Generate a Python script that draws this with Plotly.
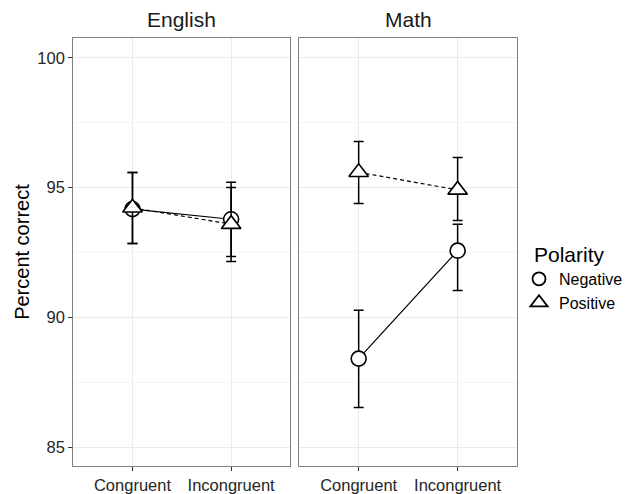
import plotly.graph_objects as go
from plotly.subplots import make_subplots

# Data: mean percent correct with error bar limits
subjects = ["English", "Math"]
conditions = ["Congruent", "Incongruent"]
polarities = ["Negative", "Positive"]

means = {
    ("English", "Negative"): [94.17, 93.78],
    ("English", "Positive"): [94.22, 93.59],
    ("Math", "Negative"): [88.41, 92.57],
    ("Math", "Positive"): [95.59, 94.91],
}
upper = {
    ("English", "Negative"): [95.58, 95.21],
    ("English", "Positive"): [95.58, 95.00],
    ("Math", "Negative"): [90.27, 93.59],
    ("Math", "Positive"): [96.78, 96.16],
}
lower = {
    ("English", "Negative"): [92.85, 92.34],
    ("English", "Positive"): [92.85, 92.15],
    ("Math", "Negative"): [86.53, 91.03],
    ("Math", "Positive"): [94.39, 93.73],
}

y_ticks = [85, 90, 95, 100]
y_minor = [87.5, 92.5, 97.5]

symbols = {"Negative": "circle", "Positive": "triangle-up"}
sizes = {"Negative": 15, "Positive": 17}
dashes = {"Negative": "solid", "Positive": "4px,3px"}

FONT = "Liberation Sans, Arial, Helvetica, sans-serif"

fig = make_subplots(rows=1, cols=2, shared_yaxes=True)

for col, subj in enumerate(subjects, start=1):
    for pol in polarities:
        m = means[(subj, pol)]
        up = [u - v for u, v in zip(upper[(subj, pol)], m)]
        dn = [v - l for l, v in zip(lower[(subj, pol)], m)]
        fig.add_trace(
            go.Scatter(
                x=conditions,
                y=m,
                mode="lines+markers",
                line=dict(color="black", width=1.2, dash=dashes[pol]),
                marker=dict(symbol=symbols[pol], size=sizes[pol], color="white",
                            line=dict(color="black", width=1.6)),
                error_y=dict(type="data", symmetric=False, array=up, arrayminus=dn,
                             color="black", thickness=1.5, width=5),
                showlegend=False,
                name=pol,
            ),
            row=1, col=col,
        )

# Legend keys (marker only)
for pol in polarities:
    fig.add_trace(
        go.Scatter(
            x=[None], y=[None], mode="markers", name=pol,
            marker=dict(symbol=symbols[pol], size=sizes[pol] - 2, color="white",
                        line=dict(color="black", width=1.8)),
        ),
        row=1, col=1,
    )

W, H = 634, 494
dom1 = [73.3 / W, 290.3 / W]
dom2 = [299.3 / W, 517.0 / W]
ydom = [1 - 467.7 / H, 1 - 38.5 / H]

axis_common = dict(
    showline=True, linecolor="#7f7f7f", linewidth=1.2, mirror=True,
    showgrid=True, gridcolor="#ebebeb", gridwidth=1,
    ticks="outside", ticklen=4, tickcolor="#333333", tickwidth=1,
    tickfont=dict(family=FONT, size=16.5, color="#262626"),
    zeroline=False,
)

fig.update_xaxes(**axis_common, type="category", categoryorder="array",
                 categoryarray=conditions, range=[-0.6, 1.6])
fig.update_layout(xaxis=dict(domain=dom1), xaxis2=dict(domain=dom2))
fig.update_yaxes(**axis_common, range=[84.28, 100.75], tickvals=y_ticks,
                 domain=ydom,
                 minor=dict(tickvals=y_minor, showgrid=True, gridcolor="#f5f5f5",
                            gridwidth=1, ticks=""))
fig.update_yaxes(ticks="", row=1, col=2)
fig.update_yaxes(title=dict(text="Percent correct", font=dict(family=FONT, size=20, color="black"),
                            standoff=2), row=1, col=1)

for subj, dom in zip(subjects, [dom1, dom2]):
    fig.add_annotation(
        text=subj, x=(dom[0] + dom[1]) / 2, y=1 - 20 / H, xref="paper", yref="paper",
        showarrow=False, font=dict(family=FONT, size=21, color="#1a1a1a"),
        xanchor="center", yanchor="middle",
    )

# Legend title
fig.add_annotation(
    text="Polarity", x=532 / W, y=1 - 256 / H, xref="paper", yref="paper",
    showarrow=False, font=dict(family=FONT, size=21, color="black"),
    xanchor="left", yanchor="middle",
)

fig.update_layout(
    width=W, height=H,
    margin=dict(l=0, r=0, t=0, b=0),
    paper_bgcolor="white", plot_bgcolor="white",
    font=dict(family=FONT),
    legend=dict(
        x=519 / W, y=1 - 263 / H, xanchor="left", yanchor="top",
        font=dict(family=FONT, size=16, color="black"),
        itemwidth=30, tracegroupgap=0, bgcolor="rgba(0,0,0,0)",
    ),
)

fig.write_html("out.html")
